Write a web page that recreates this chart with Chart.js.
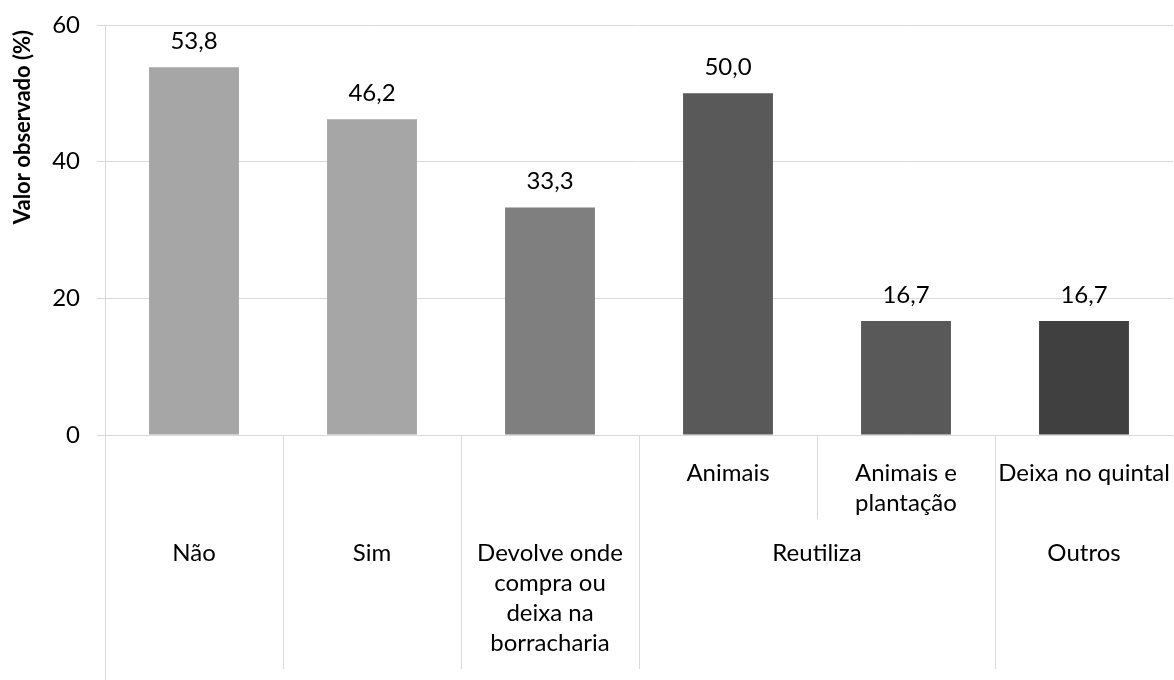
<!DOCTYPE html>
<html>
<head>
<meta charset="utf-8">
<script src="https://cdn.jsdelivr.net/npm/chart.js@4/dist/chart.umd.min.js"></script>
<style>
  html, body { margin: 0; padding: 0; background: #ffffff; }
  #wrap { width: 1174px; height: 680px; }
</style>
</head>
<body>
<div id="wrap"><canvas id="c" width="1174" height="680"></canvas></div>
<script>
// ---- data ----
const categories = ["Não", "Sim", "Devolve onde compra ou deixa na borracharia", "Animais", "Animais e plantação", "Deixa no quintal"];
const values = [53.8, 46.2, 33.3, 50.0, 16.7, 16.7];
const barColors = ["#a6a6a6", "#a6a6a6", "#7f7f7f", "#595959", "#595959", "#404040"];
// inner (sub-category) row labels, one per bar (null = none)
const innerLabels = [null, null, null, ["Animais"], ["Animais e", "plantação"], ["Deixa no quintal"]];
// outer (group) row labels with the bar index range they span
const outerGroups = [
  { lines: ["Não"], from: 0, to: 0 },
  { lines: ["Sim"], from: 1, to: 1 },
  { lines: ["Devolve onde", "compra ou", "deixa na", "borracharia"], from: 2, to: 2 },
  { lines: ["Reutiliza"], from: 3, to: 4 },
  { lines: ["Outros"], from: 5, to: 5 }
];
const yTicks = [0, 20, 40, 60];
const yTitle = "Valor observado (%)";

const FONT = "Lato, 'Open Sans', sans-serif";
const LINE = "#d9d9d9";
const FS = 24;

const overlay = {
  id: "overlay",
  afterDatasetsDraw(chart) {
    const ctx = chart.ctx;
    const meta = chart.getDatasetMeta(0);
    ctx.save();
    ctx.fillStyle = "#000";
    ctx.font = FS + "px " + FONT;
    ctx.textAlign = "center";
    ctx.textBaseline = "alphabetic";
    meta.data.forEach((bar, i) => {
      ctx.fillText(values[i].toFixed(1).replace(".", ","), bar.x, bar.y - 18);
    });
    ctx.restore();
  },
  afterDraw(chart) {
    const ctx = chart.ctx;
    const xs = chart.scales.x;
    const area = chart.chartArea;
    const n = categories.length;
    const step = (area.right - area.left) / n;
    const edge = i => area.left + step * i;
    const base = area.bottom;
    ctx.save();
    ctx.strokeStyle = LINE;
    ctx.lineWidth = 1;
    const vline = (x, y0, y1) => {
      ctx.beginPath();
      ctx.moveTo(Math.round(x) + 0.5, y0);
      ctx.lineTo(Math.round(x) + 0.5, y1);
      ctx.stroke();
    };
    vline(area.left, base, 680);
    outerGroups.forEach(g => { if (g.from > 0) vline(edge(g.from), base, base + 234); });
    outerGroups.forEach(g => {
      for (let i = g.from + 1; i <= g.to; i++) vline(edge(i), base, base + 84);
    });
    ctx.fillStyle = "#000";
    ctx.font = FS + "px " + FONT;
    ctx.textAlign = "center";
    ctx.textBaseline = "middle";
    innerLabels.forEach((lines, i) => {
      if (!lines) return;
      const cx = xs.getPixelForValue(i);
      lines.forEach((t, k) => ctx.fillText(t, cx, base + 38 + k * 30));
    });
    outerGroups.forEach(g => {
      const cx = (xs.getPixelForValue(g.from) + xs.getPixelForValue(g.to)) / 2;
      g.lines.forEach((t, k) => ctx.fillText(t, cx, base + 118 + k * 30));
    });
    ctx.translate(23, 127);
    ctx.rotate(-Math.PI / 2);
    ctx.font = "bold 22px " + FONT;
    ctx.textAlign = "center";
    ctx.textBaseline = "middle";
    ctx.fillText(yTitle, 0, 0);
    ctx.restore();
  }
};

new Chart(document.getElementById("c"), {
  type: "bar",
  data: {
    labels: categories,
    datasets: [{
      data: values,
      backgroundColor: barColors,
      borderWidth: 0,
      categoryPercentage: 1.0,
      barPercentage: 0.505
    }]
  },
  options: {
    responsive: false,
    animation: false,
    devicePixelRatio: 1,
    layout: { padding: { top: 25, right: 1, left: 0, bottom: 0 } },
    plugins: { legend: { display: false }, tooltip: { enabled: false }, title: { display: false } },
    scales: {
      x: {
        display: true,
        grid: { display: false },
        border: { display: false },
        ticks: { display: false },
        afterFit: s => { s.height = 245; s.paddingLeft = 0; s.paddingRight = 0; }
      },
      y: {
        min: 0, max: 60,
        afterBuildTicks: s => { s.ticks = yTicks.map(v => ({ value: v })); },
        ticks: { color: "#000", font: { size: FS, family: FONT }, padding: 17 },
        grid: { color: LINE, lineWidth: 1, tickLength: 8, drawTicks: true },
        border: { display: true, color: LINE },
        afterFit: s => { s.width = 105; s.paddingTop = 0; s.paddingBottom = 0; }
      }
    }
  },
  plugins: [overlay]
});
</script>
</body>
</html>
